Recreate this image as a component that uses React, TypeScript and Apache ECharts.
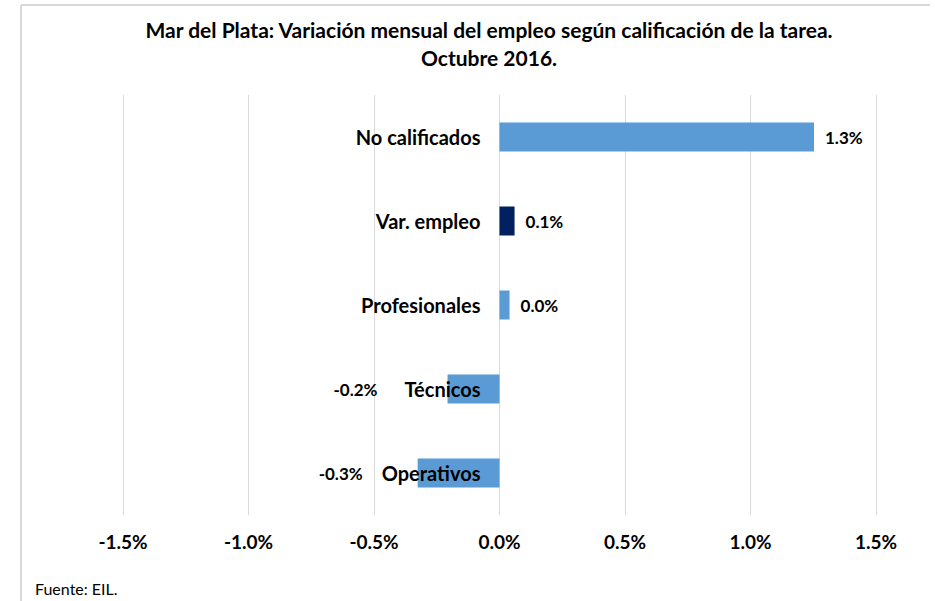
import React, { useEffect, useRef } from "react";
import * as echarts from "echarts";

const categories = ["No calificados", "Var. empleo", "Profesionales", "Técnicos", "Operativos"];
const values = [1.253, 0.06, 0.04, -0.207, -0.326];
const highlightCategory = "Var. empleo";
const xTicks = { min: -1.5, max: 1.5, interval: 0.5 };
const titleLines = ["Mar del Plata: Variación mensual del empleo según calificación de la tarea.", "Octubre 2016."];
const sourceNote = "Fuente: EIL.";

const FONT = "Lato, 'Liberation Sans', sans-serif";
const negLabelDistance = [0, 0, 0, 70, 55];

export default function App() {
  const ref = useRef<HTMLDivElement>(null);
  useEffect(() => {
    if (!ref.current) return;
    const chart = echarts.init(ref.current, null, { renderer: "svg" });
    const data = values.map((v, i) => ({
      value: v,
      itemStyle: { color: categories[i] === highlightCategory ? "#002060" : "#5B9BD5" },
      label: {
        position: v < 0 ? "left" : "right",
        distance: v < 0 ? negLabelDistance[i] : 11,
      },
    }));
    chart.setOption({
      animation: false,
      backgroundColor: "#ffffff",
      title: {
        text: titleLines.join("\n"),
        left: 484,
        top: 10,
        textAlign: "center",
        textStyle: { fontFamily: FONT, fontWeight: "bold", fontSize: 21, lineHeight: 28, color: "#000" },
      },
      grid: { left: 123, right: 59, top: 95, bottom: 86, containLabel: false, outerBoundsMode: "none" },
      xAxis: {
        type: "value",
        min: xTicks.min,
        max: xTicks.max,
        interval: xTicks.interval,
        axisLine: { show: false },
        axisTick: { show: false },
        splitLine: { show: true, lineStyle: { color: "#d9d9d9", width: 1 } },
        axisLabel: {
          margin: 17,
          fontFamily: FONT,
          fontWeight: "bold",
          fontSize: 19,
          color: "#000",
          formatter: (v: number) => v.toFixed(1) + "%",
        },
      },
      yAxis: {
        type: "category",
        data: categories,
        inverse: true,
        axisLine: { show: false },
        axisTick: { show: false },
        splitLine: { show: false },
        axisLabel: { show: false },
      },
      series: [
        {
          type: "bar",
          data,
          barWidth: 29,
          z: 2,
          label: {
            show: true,
            fontFamily: FONT,
            fontWeight: "bold",
            fontSize: 17,
            color: "#000",
            formatter: (p: any) => p.value.toFixed(1) + "%",
          },
        },
        {
          type: "bar",
          data: categories.map(() => 0),
          barWidth: 29,
          barGap: "-100%",
          z: 3,
          itemStyle: { color: "transparent" },
          silent: true,
          label: {
            show: true,
            position: "left",
            distance: 19,
            fontFamily: FONT,
            fontWeight: "bold",
            fontSize: 20,
            color: "#000",
            formatter: (p: any) => categories[p.dataIndex],
          },
        },
      ],
      graphic: [
        { type: "line", shape: { x1: 21, y1: 5, x2: 930, y2: 5 }, style: { stroke: "#d9d9d9", lineWidth: 2 } },
        { type: "line", shape: { x1: 21, y1: 5, x2: 21, y2: 601 }, style: { stroke: "#d9d9d9", lineWidth: 2 } },
        {
          type: "text",
          left: 35,
          top: 580,
          style: { text: sourceNote, fontFamily: FONT, fontSize: 16, fill: "#000" },
        },
      ],
    });
    return () => chart.dispose();
  }, []);
  return <div ref={ref} style={{ position: "fixed", left: 0, top: 0, width: 935, height: 601 }} />;
}
